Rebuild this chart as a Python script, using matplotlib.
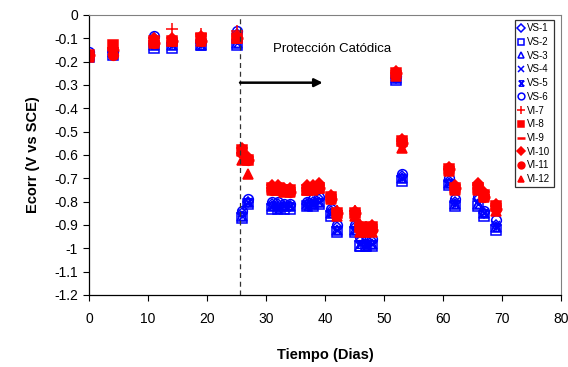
import matplotlib
matplotlib.use('agg')
import matplotlib.pyplot as plt
from matplotlib.path import Path

plt.rcParams['font.family'] = ['Liberation Sans', 'DejaVu Sans']

dias = [0, 4, 11, 14, 19, 25, 26, 27, 31, 32, 33, 34, 37, 38, 39, 41, 42,
        45, 46, 47, 48, 52, 53, 61, 62, 66, 67, 69]

vs1 = [-0.17, -0.16, -0.10, -0.12, -0.12, -0.08, -0.85, -0.80, -0.81, -0.81, -0.82, -0.82, -0.81, -0.80,
       -0.79, -0.84, -0.91, -0.91, -0.97, -0.98, -0.97, -0.27, -0.69, -0.71, -0.80, -0.79, -0.85, -0.90]
vs2 = [-0.18, -0.17, -0.14, -0.14, -0.13, -0.13, -0.87, -0.81, -0.83, -0.83, -0.83, -0.83, -0.82, -0.82,
       -0.81, -0.86, -0.93, -0.93, -0.99, -0.99, -0.99, -0.28, -0.71, -0.73, -0.82, -0.82, -0.86, -0.92]
vs3 = [-0.17, -0.16, -0.13, -0.13, -0.13, -0.12, -0.86, -0.80, -0.82, -0.82, -0.82, -0.82, -0.81, -0.81,
       -0.80, -0.85, -0.92, -0.92, -0.99, -0.99, -0.98, -0.27, -0.70, -0.72, -0.81, -0.81, -0.85, -0.91]
vs4 = [-0.17, -0.16, -0.12, -0.12, -0.12, -0.11, -0.85, -0.80, -0.82, -0.82, -0.82, -0.82, -0.81, -0.80,
       -0.80, -0.85, -0.92, -0.92, -0.98, -0.98, -0.98, -0.27, -0.70, -0.72, -0.80, -0.80, -0.85, -0.90]
vs5 = [-0.17, -0.16, -0.13, -0.13, -0.13, -0.12, -0.86, -0.80, -0.82, -0.83, -0.82, -0.82, -0.82, -0.81,
       -0.80, -0.85, -0.92, -0.92, -0.98, -0.99, -0.98, -0.27, -0.70, -0.72, -0.81, -0.81, -0.85, -0.91]
vs6 = [-0.16, -0.16, -0.09, -0.11, -0.11, -0.07, -0.84, -0.79, -0.80, -0.80, -0.81, -0.81, -0.80, -0.79,
       -0.78, -0.83, -0.90, -0.90, -0.95, -0.97, -0.96, -0.26, -0.68, -0.70, -0.79, -0.78, -0.84, -0.88]

vi7 = [-0.17, -0.14, -0.11, -0.06, -0.08, -0.07, -0.59, -0.62, -0.74, -0.74, -0.75, -0.75, -0.74, -0.74,
       -0.73, -0.78, -0.84, -0.84, -0.90, -0.91, -0.91, -0.25, -0.54, -0.66, -0.74, -0.73, -0.77, -0.82]
vi8 = [-0.17, -0.13, -0.11, -0.11, -0.10, -0.10, -0.58, -0.62, -0.74, -0.74, -0.75, -0.75, -0.75, -0.74,
       -0.74, -0.78, -0.85, -0.85, -0.91, -0.92, -0.91, -0.25, -0.54, -0.66, -0.74, -0.74, -0.77, -0.82]
vi9 = [-0.17, -0.15, -0.12, -0.11, -0.11, -0.10, -0.60, -0.62, -0.75, -0.75, -0.76, -0.76, -0.75, -0.75,
       -0.74, -0.79, -0.85, -0.85, -0.92, -0.92, -0.92, -0.25, -0.55, -0.66, -0.74, -0.74, -0.78, -0.83]
vi10 = [-0.17, -0.14, -0.10, -0.10, -0.09, -0.09, -0.57, -0.61, -0.73, -0.73, -0.74, -0.74, -0.73, -0.73,
        -0.72, -0.77, -0.84, -0.84, -0.90, -0.91, -0.90, -0.24, -0.53, -0.65, -0.73, -0.72, -0.76, -0.81]
vi11 = [-0.17, -0.17, -0.12, -0.11, -0.11, -0.10, -0.59, -0.62, -0.75, -0.75, -0.75, -0.76, -0.75, -0.74,
        -0.74, -0.79, -0.85, -0.85, -0.92, -0.92, -0.92, -0.25, -0.55, -0.66, -0.74, -0.74, -0.78, -0.83]
vi12 = [-0.18, -0.15, -0.12, -0.11, -0.11, -0.10, -0.62, -0.68, -0.75, -0.75, -0.76, -0.76, -0.75, -0.75,
        -0.74, -0.79, -0.86, -0.86, -0.93, -0.93, -0.93, -0.26, -0.57, -0.67, -0.75, -0.75, -0.78, -0.84]

nombres = ['VS-1', 'VS-2', 'VS-3', 'VS-4', 'VS-5', 'VS-6',
           'VI-7', 'VI-8', 'VI-9', 'VI-10', 'VI-11', 'VI-12']
series = [vs1, vs2, vs3, vs4, vs5, vs6, vi7, vi8, vi9, vi10, vi11, vi12]

# X with bars top and bottom (Excel style)
reloj = Path([(-1, 1), (1, 1), (-1, 1), (1, -1), (1, 1), (-1, -1), (-1, -1), (1, -1)],
             [Path.MOVETO, Path.LINETO] * 4)

azul = '#0000ff'
rojo = '#ff0000'
estilos = [
    dict(marker='D', mfc='none', mec=azul, ms=5.5),
    dict(marker='s', mfc='none', mec=azul, ms=6.5),
    dict(marker='^', mfc='none', mec=azul, ms=7),
    dict(marker='x', mfc='none', mec=azul, ms=6),
    dict(marker=reloj, mfc='none', mec=azul, ms=5.5),
    dict(marker='o', mfc='none', mec=azul, ms=7),
    dict(marker='+', mfc=rojo, mec=rojo, ms=8),
    dict(marker='s', mfc=rojo, mec=rojo, ms=6.5),
    dict(marker='_', mfc=rojo, mec=rojo, ms=8, mew=1.8),
    dict(marker='D', mfc=rojo, mec=rojo, ms=5.5),
    dict(marker='o', mfc=rojo, mec=rojo, ms=7),
    dict(marker='^', mfc=rojo, mec=rojo, ms=7),
]

fig = plt.figure(figsize=(5.68, 3.67), dpi=100)
ax = fig.add_axes([89 / 568, 1 - 295 / 367, (561 - 89) / 568, (295 - 15) / 367])

for nombre, vals, st in zip(nombres, series, estilos):
    kw = dict(st)
    kw.setdefault('mew', 1.1)
    ax.plot(dias, vals, linestyle='none', label=nombre, **kw)

ax.axvline(25.6, color='#333333', linestyle=(0, (4, 3)), linewidth=0.9)
ax.annotate('', xy=(39.6, -0.29), xytext=(25.6, -0.29),
            arrowprops=dict(arrowstyle='-|>', color='black', lw=1.8, mutation_scale=12,
                            shrinkA=0, shrinkB=0))
ax.text(31.2, -0.145, 'Protección Catódica', fontsize=9.5, va='center')

ax.set_xlim(0, 80)
ax.set_ylim(-1.2, 0)
ax.set_xticks(range(0, 81, 10))
ax.set_yticks([i / 10 for i in range(-12, 1)])
ax.set_yticklabels(['-1.2', '-1.1', '-1', '-0.9', '-0.8', '-0.7', '-0.6', '-0.5', '-0.4',
                    '-0.3', '-0.2', '-0.1', '0'])
ax.tick_params(direction='out', length=4, width=0.8, labelsize=10, pad=4)
ax.tick_params(axis='x', pad=8)
for s in ['top', 'right']:
    ax.spines[s].set_color('#808080')
    ax.spines[s].set_linewidth(0.8)
for s in ['left', 'bottom']:
    ax.spines[s].set_color('black')
    ax.spines[s].set_linewidth(0.9)

ax.set_xlabel('Tiempo (Dias)', fontsize=10.5, fontweight='bold', labelpad=16)
ax.set_ylabel('Ecorr (V vs SCE)', fontsize=10.5, fontweight='bold', labelpad=10)

leg = ax.legend(loc='upper left', bbox_to_anchor=(515 / 568, 1 - 20 / 367),
                bbox_transform=fig.transFigure, fontsize=7, frameon=True, fancybox=False,
                edgecolor='black', handlelength=0.6, handletextpad=0.3, borderpad=0.35,
                labelspacing=0.38, borderaxespad=0, markerscale=0.7)
leg.get_frame().set_linewidth(0.9)

fig.savefig('out.png', dpi=100)
